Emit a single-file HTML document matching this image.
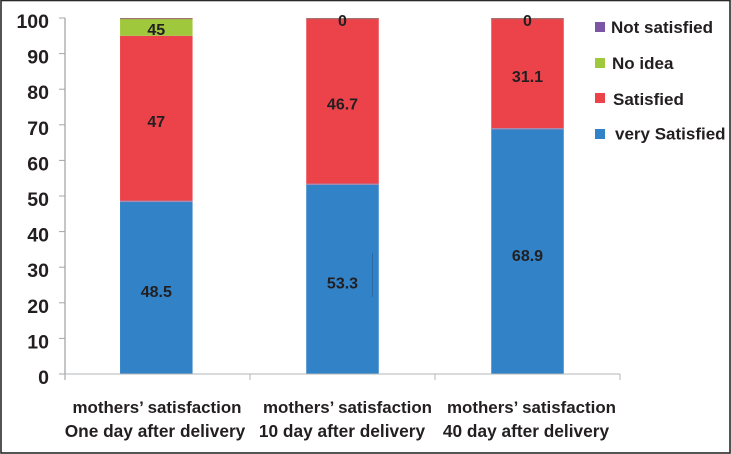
<!DOCTYPE html>
<html lang="en">
<head>
<meta charset="utf-8">
<title>Mothers' satisfaction chart</title>
<style>
  html, body { margin: 0; padding: 0; background: #fff; }
  #chart { display: block; width: 731px; height: 454px; }
  text { font-family: "Liberation Sans", sans-serif; font-weight: bold; }
</style>
</head>
<body>
<svg id="chart" xmlns="http://www.w3.org/2000/svg" width="731" height="454" viewBox="0 0 731 454">
  <rect x="1" y="0.5" width="729" height="452.5" fill="#fff" stroke="#2a2a2a" stroke-width="1.6"/>
  <g id="bars"></g>
  <line x1="372.5" x2="372.5" y1="253" y2="297" stroke="#2a659c" stroke-width="0.8"/>
  <g id="axes"></g>
  <g id="labels"></g>
  <g id="legend"></g>
</svg>
<script>
const categoryLine1 = ["mothers\u2019 satisfaction", "mothers\u2019 satisfaction", "mothers\u2019 satisfaction"];
const categoryLine2 = ["One day after delivery", "10 day after delivery", "40 day after delivery"];
const verySatisfied = [48.5, 53.3, 68.9];
const satisfied = [46.5, 46.7, 31.1];
const noIdea = [5, 0, 0];
const notSatisfied = [0, 0, 0];
const verySatisfiedLabels = ["48.5", "53.3", "68.9"];
const satisfiedLabels = ["47", "46.7", "31.1"];
const noIdeaLabels = ["45", "0", "0"];
const yTicks = [0, 10, 20, 30, 40, 50, 60, 70, 80, 90, 100];
const legendNames = ["Not satisfied", "No idea", "Satisfied", "very Satisfied"];

const NS = "http://www.w3.org/2000/svg";
const plotLeft = 65, plotRight = 620, plotBottom = 374, plotTop = 18;
const barWidth = 72.5;
const colors = { very: "#3182c6", sat: "#ec434b", idea: "#9fc83c", not: "#7d55a6" };
const textColor = "#231f20";

function yScale(v) { return plotBottom - (v / 100) * (plotBottom - plotTop); }
function bandWidth() { return (plotRight - plotLeft) / categoryLine2.length; }
function xCenter(i) { return plotLeft + bandWidth() * (i + 0.5) - Math.max(0, 1 - i) * 1.2; }

function make(tag, attrs, parent, txt) {
  const el = document.createElementNS(NS, tag);
  for (const k in attrs) el.setAttribute(k, attrs[k]);
  if (txt !== undefined) el.textContent = txt;
  parent.appendChild(el);
  return el;
}

const barsG = document.getElementById("bars");
const axesG = document.getElementById("axes");
const labelsG = document.getElementById("labels");
const legendG = document.getElementById("legend");

/* stacked bars */
categoryLine2.forEach(function (c, i) {
  const x = xCenter(i) - barWidth / 2;
  let base = 0;
  const segs = [
    ["very-satisfied", verySatisfied[i], colors.very],
    ["satisfied", satisfied[i], colors.sat],
    ["no-idea", noIdea[i], colors.idea],
    ["not-satisfied", notSatisfied[i], colors.not]
  ];
  segs.forEach(function (s) {
    const top = yScale(base + s[1]);
    const bottom = yScale(base);
    const r = make("rect", { x: x, y: top, width: barWidth, height: Math.max(0, bottom - top), fill: s[2] }, barsG);
    
    
    base += s[1];
  });
  /* thin light seam between blue and red, darker cap at the top */
  const seam = make("rect", { x: x, y: yScale(verySatisfied[i]) - 0.7, width: barWidth, height: 1.4, fill: "#a98bb0" }, barsG);
  
  
  const cap = make("rect", { x: x, y: yScale(100), width: barWidth, height: 1.2, fill: "#a0756f" }, barsG);
  
  
});

/* axes */
const yAxis = make("line", { x1: plotLeft, x2: plotLeft, y1: plotTop, y2: plotBottom + 6, stroke: "#a3a6a9", "stroke-width": 1.3 }, axesG);


const xAxis = make("line", { x1: plotLeft, x2: plotRight, y1: plotBottom, y2: plotBottom, stroke: "#b2b5b8", "stroke-width": 1 }, axesG);



yTicks.forEach(function (t) {
  const y = yScale(t);
  const tick = make("line", { x1: plotLeft - 6, x2: plotLeft, y1: y, y2: y, stroke: "#a3a6a9", "stroke-width": 1 }, axesG);
  
  
  const lab = make("text", { x: 49, y: y + 10, "text-anchor": "end", "font-size": 19.5, fill: textColor }, axesG, String(t));
  
  
});

for (let i = 0; i <= categoryLine2.length; i++) {
  const x = plotLeft + bandWidth() * i;
  const tick = make("line", { x1: x, x2: x, y1: plotBottom, y2: plotBottom + 6, stroke: "#b2b5b8", "stroke-width": 1 }, axesG);
  
  
}

const catOffsets = [157, 347.5, 531.5];
const catOffsets2 = [155, 342, 526];
categoryLine2.forEach(function (c, i) {
  const l1 = make("text", { x: catOffsets[i], y: 413, "text-anchor": "middle", "font-size": 16.9, fill: textColor }, labelsG, categoryLine1[i]);
  
  
  const l2 = make("text", { x: catOffsets2[i], y: 437, "text-anchor": "middle", "font-size": 17.3, fill: textColor }, labelsG, c);
  
  
});

/* data value labels */
function valueLabel(text, x, y) {
  const t = make("text", { x: x, y: y, "text-anchor": "middle", "font-size": 16, fill: textColor }, labelsG, text);
  
  
}
categoryLine2.forEach(function (c, i) {
  const cx = xCenter(i);
  const v = verySatisfied[i], s = satisfied[i], n = noIdea[i];
  valueLabel(verySatisfiedLabels[i], cx, yScale(v / 2) + 9.5);
  valueLabel(satisfiedLabels[i], cx, yScale(v + s / 2) + 8.5);
  valueLabel(noIdeaLabels[i], cx, yScale(v + s + n / 2) + 8);
});

/* legend */
const swatchCenterY = [27, 63, 98, 134];
const legendBaselineY = [33, 69, 105, 139.5];
const legendColors = [colors.not, colors.idea, colors.sat, colors.very];
const legendX = [611, 612, 613, 615];
legendNames.forEach(function (n, i) {
  const sw = make("rect", { x: 595, y: swatchCenterY[i] - 5, width: 10, height: 10, fill: legendColors[i] }, legendG);
  
  
  const t = make("text", { x: legendX[i], y: legendBaselineY[i], "font-size": 17, fill: textColor }, legendG, n);
  
  
});
</script>
</body>
</html>
